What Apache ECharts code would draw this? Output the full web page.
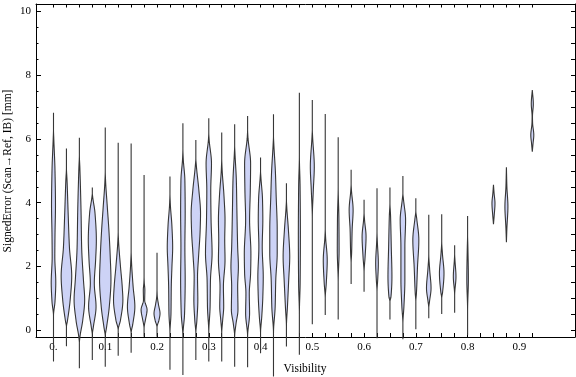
<!DOCTYPE html>
<html><head><meta charset="utf-8">
<script src="https://cdn.jsdelivr.net/npm/echarts@6/dist/echarts.min.js"></script>
<style>html,body{margin:0;padding:0;background:#fff}#c{width:576px;height:377px}</style>
</head><body><div id="c"></div>
<script>
// Visibility positions of each violin
const positions = [0,0.025,0.05,0.075,0.1,0.125,0.15,0.175,0.2,0.225,0.25,0.275,0.3,0.325,0.35,0.375,0.4,0.425,0.45,0.475,0.5,0.525,0.55,0.575,0.6,0.625,0.65,0.675,0.7,0.725,0.75,0.775,0.8,0.85,0.875,0.925];
// Density profiles: [signedError, relative density] from min to max
const profiles = [
 [[-0.98,0],[0.45,0],[0.9,0.25],[1.5,0.38],[2.3,0.22],[3.0,0.25],[3.9,0.33],[5.0,0.25],[6.0,0.05],[6.3,0],[6.82,0]],
 [[-0.5,0],[0.1,0],[0.3,0.17],[0.95,0.62],[1.7,0.88],[2.6,0.5],[3.7,0.28],[4.7,0.1],[5.1,0],[5.7,0]],
 [[-1.19,0],[-0.4,0],[-0.2,0.1],[0.3,0.55],[0.95,0.88],[1.6,0.67],[2.6,0.38],[3.7,0.28],[5.1,0.08],[5.5,0],[6.04,0]],
 [[-0.93,0],[-0.15,0],[0.1,0.17],[0.74,0.62],[1.47,0.33],[2.2,0.55],[2.83,0.67],[3.67,0.45],[4.2,0.05],[4.3,0],[4.48,0]],
 [[-1.14,0],[-0.2,0],[0.1,0.22],[0.74,0.67],[1.58,0.95],[2.3,0.83],[3.1,0.62],[3.9,0.33],[4.7,0.05],[5.0,0],[6.36,0]],
 [[-0.8,0],[0,0],[0.32,0.38],[0.95,0.78],[1.37,0.67],[2.0,0.38],[2.83,0.05],[3.1,0],[5.88,0]],
 [[-0.7,0],[-0.1,0],[0.2,0.28],[0.74,0.62],[1.37,0.33],[2.2,0.05],[2.5,0],[5.86,0]],
 [[-0.2,0],[0.06,0],[0.35,0.25],[0.64,0.5],[0.95,0.1],[1.26,0.13],[1.5,0.03],[1.7,0],[4.87,0]],
 [[-0.2,0],[0.1,0],[0.3,0.3],[0.53,0.5],[0.8,0.25],[1.1,0.03],[1.3,0],[2.43,0]],
 [[-1.24,0],[-0.1,0],[0.53,0.17],[1.37,0.22],[2.0,0.33],[2.6,0.45],[3.25,0.33],[4.0,0.05],[4.3,0],[4.82,0]],
 [[-1.4,0],[-0.2,0],[0.53,0.28],[1.58,0.38],[2.6,0.33],[3.67,0.38],[4.7,0.33],[5.4,0.05],[5.7,0],[6.49,0]],
 [[-0.93,0],[-0.1,0],[0.3,0.17],[0.95,0.33],[1.68,0.28],[2.3,0.45],[3.15,0.72],[3.67,0.78],[4.4,0.5],[5.13,0.1],[5.4,0],[5.97,0]],
 [[-0.98,0],[-0.1,0],[0.74,0.22],[1.58,0.28],[2.41,0.55],[3.46,0.38],[4.4,0.33],[5.23,0.45],[6.0,0.05],[6.2,0],[6.65,0]],
 [[-0.98,0],[-0.1,0],[0.3,0.15],[0.74,0.33],[1.37,0.28],[2.2,0.55],[2.83,0.5],[3.46,0.55],[4.2,0.38],[5.1,0.05],[5.4,0],[6.2,0]],
 [[-1.14,0],[-0.2,0],[0.2,0.22],[0.64,0.55],[1.37,0.5],[2.0,0.62],[2.6,0.5],[3.67,0.38],[4.7,0.28],[5.55,0.05],[5.8,0],[6.46,0]],
 [[-1.16,0],[-0.2,0],[0.53,0.33],[1.16,0.28],[1.79,0.5],[2.41,0.55],[3.46,0.33],[4.4,0.45],[5.23,0.5],[6.07,0.05],[6.3,0],[6.72,0]],
 [[-0.72,0],[-0.1,0],[0.42,0.2],[1.05,0.38],[1.68,0.45],[2.62,0.28],[3.46,0.38],[4.09,0.33],[4.82,0.05],[5.0,0],[5.42,0]],
 [[-1.45,0],[-0.1,0],[0.74,0.28],[1.58,0.38],[2.41,0.62],[3.15,0.62],[4.19,0.45],[4.92,0.33],[5.86,0.05],[6.1,0],[6.77,0]],
 [[-0.51,0],[0.1,0],[0.74,0.17],[1.58,0.38],[2.31,0.55],[3.15,0.33],[3.88,0.05],[4.1,0],[4.61,0]],
 [[-0.77,0],[0.5,0],[1.5,0.13],[3.0,0.17],[4.5,0.12],[5.5,0],[7.45,0]],
 [[0.19,0],[3.5,0],[4.4,0.17],[5.13,0.33],[6.07,0.05],[6.3,0],[7.22,0]],
 [[0.48,0],[1.0,0],[1.47,0.17],[2.2,0.33],[2.94,0.05],[3.2,0],[6.78,0]],
 [[0.34,0],[1.5,0],[2.5,0.15],[3.5,0.12],[4.5,0],[6.05,0]],
 [[1.45,0],[2.1,0],[2.41,0.08],[3.15,0.17],[3.77,0.33],[4.4,0.05],[4.6,0],[5.03,0]],
 [[1.21,0],[1.8,0],[2.3,0.17],[2.94,0.33],[3.46,0.08],[3.7,0],[4.09,0]],
 [[-0.25,0],[1.2,0],[1.6,0.12],[2.1,0.22],[2.8,0.05],[3.1,0],[4.45,0]],
 [[0.34,0],[0.9,0],[1.05,0.17],[1.68,0.33],[2.62,0.22],[3.6,0.1],[4.0,0],[4.48,0]],
 [[-0.28,0],[0.2,0],[0.74,0.17],[1.58,0.33],[2.62,0.33],[3.46,0.45],[4.1,0.1],[4.3,0],[4.84,0]],
 [[0.03,0],[0.9,0],[1.16,0.1],[2.0,0.28],[2.83,0.5],[3.5,0.15],[3.75,0],[4.14,0]],
 [[0.38,0],[0.7,0],[0.9,0.12],[1.32,0.38],[1.9,0.15],[2.4,0],[3.62,0]],
 [[0.51,0],[1.0,0],[1.2,0.15],[1.79,0.38],[2.4,0.12],[2.8,0],[3.64,0]],
 [[0.55,0],[1.1,0],[1.68,0.22],[2.2,0.05],[2.4,0],[2.67,0]],
 [[-0.15,0],[0.6,0],[1.6,0.13],[2.6,0.05],[3.0,0],[3.58,0]],
 [[3.33,0],[3.6,0.12],[3.98,0.25],[4.3,0.1],[4.56,0]],
 [[2.76,0],[3.2,0.08],[3.88,0.25],[4.5,0.08],[5.11,0]],
 [[5.6,0],[5.85,0.12],[6.12,0.25],[6.5,0.05],[6.7,0.03],[7.1,0.17],[7.53,0]]
];
// Axis ticks and labels
const xTicks = [0,0.025,0.05,0.075,0.1,0.125,0.15,0.175,0.2,0.225,0.25,0.275,0.3,0.325,0.35,0.375,0.4,0.425,0.45,0.475,0.5,0.525,0.55,0.575,0.6,0.625,0.65,0.675,0.7,0.725,0.75,0.775,0.8,0.825,0.85,0.875,0.9,0.925];
const xLabels = [0,0.1,0.2,0.3,0.4,0.5,0.6,0.7,0.8,0.9];
const yMajor = [0,2,4,6,8,10];
const yMinor = [0.5,1,1.5,2.5,3,3.5,4.5,5,5.5,6.5,7,7.5,8.5,9,9.5];
const yAll = [0,0.5,1,1.5,2,2.5,3,3.5,4,4.5,5,5.5,6,6.5,7,7.5,8,8.5,9,9.5,10];
const xTitle = 'Visibility';
const yTitle = 'SignedError (Scan\u2192Ref, IB) [mm]';

const WMAX = 0.0116; // x-units per unit of relative density
const FONT = 'Liberation Serif';

function smooth(k){
  const n = k.length, ys = k.map(p=>p[0]), ds = k.map(p=>p[1]);
  const h = [], del = [];
  for (let i=0;i<n-1;i++){ h.push(ys[i+1]-ys[i]); del.push((ds[i+1]-ds[i])/h[i]); }
  const m = new Array(n);
  m[0] = del[0]; m[n-1] = del[n-2];
  for (let i=1;i<n-1;i++){
    if (del[i-1]*del[i] <= 0) m[i] = 0;
    else { const w1 = 2*h[i]+h[i-1], w2 = h[i]+2*h[i-1]; m[i] = (w1+w2)/(w1/del[i-1]+w2/del[i]); }
  }
  const out = [];
  for (let i=0;i<n-1;i++){
    const steps = 12;
    for (let s=0;s<steps;s++){
      const t = s/steps, t2=t*t, t3=t2*t;
      const v = (2*t3-3*t2+1)*ds[i] + (t3-2*t2+t)*h[i]*m[i] + (-2*t3+3*t2)*ds[i+1] + (t3-t2)*h[i]*m[i+1];
      out.push([ys[i]+t*h[i], Math.max(0,v)]);
    }
  }
  out.push([ys[n-1], ds[n-1]]);
  return out;
}

function renderItem(params, api){
  const x = api.value(0), idx = api.value(1);
  const samples = smooth(profiles[idx]);
  const right = [], left = [];
  for (const [y,d] of samples){
    const c = api.coord([x,y]);
    const hw = api.size([d*WMAX,0])[0];
    right.push([c[0]+hw, c[1]]);
    left.push([c[0]-hw, c[1]]);
  }
  const pts = right.concat(left.reverse());
  return {type:'polygon', shape:{points:pts}, style:{fill:'#cdd3f6', stroke:'#363636', lineWidth:1.1}};
}

const lineStyle = {color:'#000', width:1};
const chart = echarts.init(document.getElementById('c'), null, {renderer:'canvas'});
chart.setOption({
  animation:false,
  grid:{left:36, right:1, top:4, bottom:40, containLabel:false, outerBoundsMode:'none'},
  graphic:[
    {type:'text', x:8, y:171, rotation:Math.PI/2,
     style:{text:yTitle, fontFamily:FONT, fontSize:11.5, fill:'#000', align:'center', verticalAlign:'middle'}},
    {type:'text', x:305, y:369,
     style:{text:xTitle, fontFamily:FONT, fontSize:11.5, fill:'#000', align:'center', verticalAlign:'middle'}}
  ],
  xAxis:[
    {type:'value', position:'bottom', min:-0.0338, max:1.0075,
     axisLine:{show:true, onZero:false, lineStyle}, splitLine:{show:false},
     axisTick:{show:true, inside:true, length:4, customValues:xTicks, lineStyle},
     axisLabel:{show:true, customValues:xLabels, margin:5, fontFamily:FONT, fontSize:11, color:'#000',
       formatter:v=> v===0 ? '0.' : String(v)}},
    {type:'value', position:'top', min:-0.0338, max:1.0075,
     axisLine:{show:true, onZero:false, lineStyle}, splitLine:{show:false},
     axisTick:{show:true, inside:true, length:3.5, customValues:xTicks, lineStyle},
     axisLabel:{show:false}}
  ],
  yAxis:[
    {type:'value', position:'left', min:-0.21, max:10.23,
     axisLine:{show:true, onZero:false, lineStyle}, splitLine:{show:false},
     axisTick:{show:true, inside:true, length:5, customValues:yMajor, lineStyle},
     axisLabel:{show:true, customValues:yMajor, margin:5, fontFamily:FONT, fontSize:11, color:'#000'}},
    {type:'value', position:'left', min:-0.21, max:10.23,
     axisLine:{show:false, onZero:false}, splitLine:{show:false},
     axisTick:{show:true, inside:true, length:2.5, customValues:yMinor, lineStyle},
     axisLabel:{show:false}},
    {type:'value', position:'right', min:-0.21, max:10.23,
     axisLine:{show:true, onZero:false, lineStyle}, splitLine:{show:false},
     axisTick:{show:true, inside:true, length:4, customValues:yAll, lineStyle},
     axisLabel:{show:false}}
  ],
  series:[{
    type:'custom', xAxisIndex:0, yAxisIndex:0, clip:false,
    renderItem,
    data: positions.map((p,i)=>[p,i])
  }]
});
</script></body></html>
